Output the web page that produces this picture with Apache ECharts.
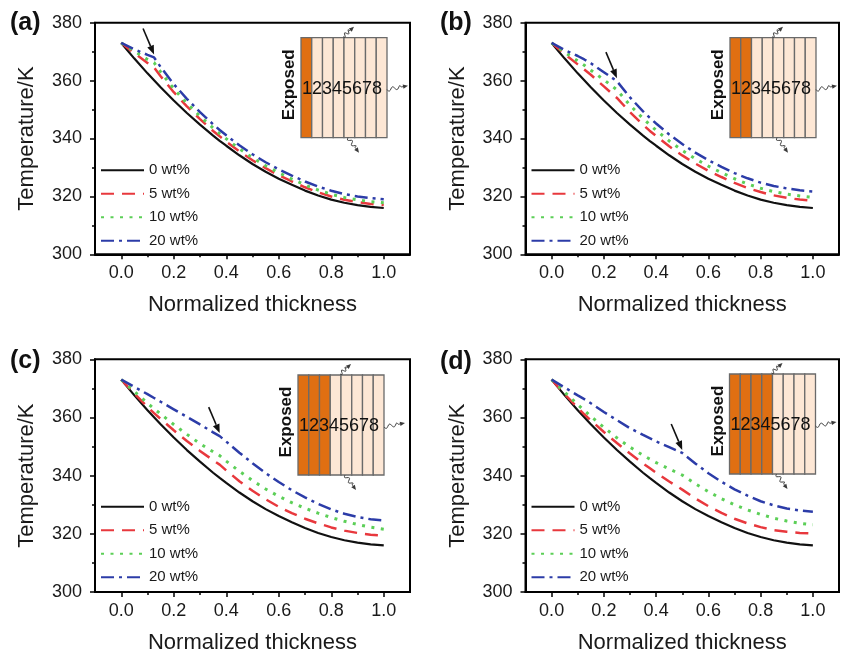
<!DOCTYPE html>
<html>
<head>
<meta charset="utf-8">
<script src="https://cdn.jsdelivr.net/npm/echarts@6/dist/echarts.min.js"></script>
<style>
  html, body { margin: 0; padding: 0; background: #fff; }
  #chart { width: 846px; height: 655px; }
</style>
</head>
<body>
<div id="chart"></div>
<script>
// Normalized thickness positions (layer interfaces at 1/8 steps included)
const thickness = [0, 0.05, 0.1, 0.125, 0.15, 0.2, 0.25, 0.3, 0.35, 0.375, 0.4, 0.45, 0.5,
                   0.55, 0.6, 0.65, 0.7, 0.75, 0.8, 0.85, 0.9, 0.95, 1.0];

// 0 wt% reference profile (same in every panel)
const wt0 = [373, 367.6, 362.5, 360.1, 357.7, 353.1, 348.8, 344.8, 341.0, 339.2, 337.5, 334.2, 331.2,
             328.5, 326.1, 324.0, 322.0, 320.3, 318.9, 317.8, 317.0, 316.4, 316.0];

// (a) one exposed layer
const wt5A  = [373, 369.5, 366.1, 364.5, 361.5, 356.0, 351.1, 346.7, 342.6, 340.75, 338.95, 335.55, 332.5,
               329.75, 327.3, 325.15, 323.15, 321.4, 319.95, 318.85, 318.0, 317.4, 317.0];
const wt10A = [373, 370.2, 367.3, 366.2, 363.0, 357.2, 352.2, 347.7, 343.6, 341.7, 339.9, 336.45, 333.35,
               330.6, 328.15, 326.0, 323.95, 322.2, 320.75, 319.6, 318.8, 318.2, 317.8];
const wt20A = [373, 370.8, 368.9, 368.0, 364.7, 358.8, 353.7, 349.1, 344.9, 342.95, 341.1, 337.65, 334.55,
               331.8, 329.35, 327.2, 325.15, 323.4, 321.95, 320.8, 320.0, 319.4, 319.0];

// (b) two exposed layers
const wt5B  = [373, 369.2, 365.6, 363.8, 362.0, 358.0, 354.0, 349.1, 344.7, 342.7, 340.85, 337.3, 334.15,
               331.35, 328.85, 326.7, 324.65, 322.9, 321.5, 320.35, 319.5, 318.9, 318.5];
const wt10B = [373, 369.8, 366.8, 365.3, 363.6, 360.3, 356.8, 351.5, 346.9, 344.8, 342.85, 339.15, 335.9,
               333.0, 330.45, 328.2, 326.1, 324.3, 322.8, 321.65, 320.8, 320.15, 319.7];
const wt20B = [373, 370.6, 368.5, 367.3, 366.0, 362.9, 359.8, 354.2, 349.4, 347.2, 345.2, 341.4, 338.1,
               335.1, 332.5, 330.2, 328.05, 326.25, 324.75, 323.6, 322.75, 322.1, 321.7];

// (c) three exposed layers
const wt5C  = [373, 368.2, 363.6, 361.5, 359.5, 355.6, 351.9, 348.5, 345.3, 343.8, 341.8, 338.1, 334.8,
               331.9, 329.3, 327.1, 325.2, 323.6, 322.2, 321.1, 320.3, 319.7, 319.4];
const wt10C = [373, 368.9, 364.9, 363.0, 361.2, 357.6, 354.2, 351.0, 348.2, 346.9, 345.0, 341.5, 338.3,
               335.4, 332.9, 330.7, 328.8, 327.1, 325.6, 324.3, 323.2, 322.3, 321.6];
const wt20C = [373, 370.5, 368.0, 366.7, 365.4, 362.8, 360.2, 357.6, 354.9, 353.6, 351.7, 347.9, 344.3,
               340.9, 337.8, 335.0, 332.5, 330.3, 328.4, 326.9, 325.8, 325.0, 324.6];

// (d) four exposed layers
const wt5D  = [373, 368.0, 363.3, 361.1, 359.0, 355.0, 351.2, 347.6, 344.2, 342.6, 341.0, 338.0, 335.2,
               332.2, 329.5, 327.2, 325.2, 323.6, 322.3, 321.3, 320.7, 320.3, 320.1];
const wt10D = [373, 368.7, 364.4, 362.4, 360.4, 356.6, 353.0, 349.8, 347.0, 345.7, 344.5, 342.3, 340.2,
               337.2, 334.5, 332.1, 330.0, 328.2, 326.7, 325.4, 324.4, 323.6, 323.1];
const wt20D = [373, 370.3, 367.6, 366.3, 364.9, 361.9, 359.1, 356.3, 354.0, 352.9, 351.8, 349.8, 347.8,
               344.2, 340.8, 337.9, 335.3, 333.1, 331.2, 329.8, 328.7, 328.0, 327.6];

const seriesNames = ['0 wt%', '5 wt%', '10 wt%', '20 wt%'];
const panelLabels = ['(a)', '(b)', '(c)', '(d)'];
const exposedLayers = [1, 2, 3, 4];
const interfaceX = [0.125, 0.25, 0.375, 0.5];
const xTickValues = [0, 0.2, 0.4, 0.6, 0.8, 1.0];
const xMinorValues = [0.1, 0.3, 0.5, 0.7, 0.9];
const layerDigits = '12345678';

const panelData = [
  [wt0, wt5A, wt10A, wt20A],
  [wt0, wt5B, wt10B, wt20B],
  [wt0, wt5C, wt10C, wt20C],
  [wt0, wt5D, wt10D, wt20D]
];

const FONT = '"Liberation Sans", Arial, Helvetica, sans-serif';
const INK = '#1a1a1a';

const grids = [
  { left: 95,    top: 22.7,  width: 315,   height: 231.6 },
  { left: 525.5, top: 22.7,  width: 313.5, height: 231.6 },
  { left: 95,    top: 359.3, width: 315,   height: 234 },
  { left: 525.5, top: 359.3, width: 313.5, height: 234 }
];

const lineStyles = [
  { color: '#111111', width: 2.2, type: 'solid' },
  { color: '#e8383d', width: 2.5, type: [13, 8] },
  { color: '#5ccf57', width: 3,   type: [3, 6.5] },
  { color: '#2c3ca8', width: 2.5, type: [13, 5, 3, 5] }
];

const axisLineStyle = { color: '#000', width: 2 };
const tickLineStyle = { color: '#000', width: 1.5 };

const xAxes = [];
const yAxes = [];
const series = [];
const legends = [];

grids.forEach((g, i) => {
  xAxes.push({
    gridIndex: i, type: 'value', min: -0.1, max: 1.1, position: 'bottom',
    axisLine: { show: true, onZero: false, lineStyle: axisLineStyle },
    axisTick: { show: true, customValues: xTickValues, length: 5, lineStyle: tickLineStyle },
    axisLabel: { customValues: xTickValues, formatter: v => v.toFixed(1),
                 fontSize: 18, margin: 10, color: INK, fontFamily: FONT },
    splitLine: { show: false },
    name: 'Normalized thickness', nameLocation: 'middle', nameGap: 40,
    nameTextStyle: { fontSize: 22, color: INK, fontFamily: FONT }
  });
  yAxes.push({
    gridIndex: i, type: 'value', min: 300, max: 380, interval: 20, position: 'left',
    axisLine: { show: true, onZero: false, lineStyle: axisLineStyle },
    axisTick: { show: true, length: 5, lineStyle: tickLineStyle },
    minorTick: { show: true, splitNumber: 2, length: 3, lineStyle: tickLineStyle },
    axisLabel: { fontSize: 18, margin: 13, color: INK, fontFamily: FONT },
    splitLine: { show: false },
    minorSplitLine: { show: false },
    name: 'Temperature/K', nameLocation: 'middle', nameGap: 57,
    nameTextStyle: { fontSize: 22, color: INK, fontFamily: FONT }
  });
  panelData[i].forEach((vals, k) => {
    series.push({
      type: 'line', name: seriesNames[k], xAxisIndex: i, yAxisIndex: i,
      data: thickness.map((x, j) => [x, vals[j]]),
      symbol: 'none', showSymbol: false, smooth: false,
      lineStyle: lineStyles[k], itemStyle: { color: lineStyles[k].color },
      z: 2 + k
    });
  });
  legends.push({
    orient: 'vertical', left: g.left + 5, top: g.top + 140,
    itemWidth: 43, itemHeight: 14, itemGap: 8.5, padding: 0,
    selectedMode: false, data: seriesNames,
    itemStyle: { opacity: 0 },
    textStyle: { fontSize: 15, color: INK, fontFamily: FONT, lineHeight: 14 }
  });
});

// secondary bottom axes carrying the short minor ticks at odd tenths
grids.forEach((g, i) => {
  xAxes.push({
    gridIndex: i, type: 'value', min: -0.1, max: 1.1, position: 'bottom',
    axisLine: { show: false, onZero: false },
    axisTick: { show: true, customValues: xMinorValues, length: 3, lineStyle: tickLineStyle },
    axisLabel: { show: false, customValues: xMinorValues },
    splitLine: { show: false }
  });
});

const chart = echarts.init(document.getElementById('chart'), null, { renderer: 'canvas' });
chart.setOption({
  animation: false,
  backgroundColor: '#fff',
  textStyle: { fontFamily: FONT },
  grid: grids.map(g => Object.assign({ show: true, borderColor: '#000', borderWidth: 2,
                                       backgroundColor: 'transparent' }, g)),
  xAxis: xAxes,
  yAxis: yAxes,
  legend: legends,
  series: series
});

// ---------- decorations: panel letters, layer sketch, interface arrows ----------
function squiggleArrow(x0, y0, x1, y1) {
  const dx = x1 - x0, dy = y1 - y0, len = Math.hypot(dx, dy);
  const ux = dx / len, uy = dy / len, px = -uy, py = ux;
  const bodyLen = len - 4;
  const pts = [];
  const n = 18;
  for (let k = 0; k <= n; k++) {
    const t = k / n;
    const d = t * bodyLen;
    const w = t < 0.8 ? 1.8 * Math.sin(t * Math.PI * 4.4) : 0;
    pts.push([x0 + ux * d + px * w, y0 + uy * d + py * w]);
  }
  const bx = x1 - ux * 5, by = y1 - uy * 5;
  return [
    { type: 'polyline', shape: { points: pts, smooth: 0.3 },
      style: { stroke: '#3a3a3a', lineWidth: 1, fill: null }, z: 20 },
    { type: 'polygon', shape: { points: [[x1, y1], [bx + px * 2.2, by + py * 2.2], [bx - px * 2.2, by - py * 2.2]] },
      style: { fill: '#3a3a3a' }, z: 20 }
  ];
}

function layerSketch(L, T, n) {
  const W = 86, H = 100, cw = W / 8;
  const els = [];
  for (let k = 0; k < 8; k++) {
    els.push({ type: 'rect', shape: { x: L + k * cw, y: T, width: cw, height: H },
      style: { fill: k < n ? '#e06f12' : '#fde7d5', stroke: '#6a6a6a', lineWidth: 1.3 }, z: 20 });
  }
  els.push({ type: 'text', x: L + 1, y: T + 51.5, z: 21,
    style: { text: layerDigits, font: '18px ' + FONT, fill: '#111',
             align: 'left', verticalAlign: 'middle', textAlign: 'left', textVerticalAlign: 'middle' } });
  els.push({ type: 'text', x: L - 11.5, y: T + 47, rotation: Math.PI / 2, z: 21,
    style: { text: 'Exposed', font: 'bold 17px ' + FONT, fill: '#111',
             align: 'center', verticalAlign: 'middle', textAlign: 'center', textVerticalAlign: 'middle' } });
  return els
    .concat(squiggleArrow(L + 42, T - 1, L + 53, T - 11))
    .concat(squiggleArrow(L + 86, T + 52, L + 107, T + 48))
    .concat(squiggleArrow(L + 47, T + 100, L + 58, T + 115));
}

const letterPos = [[10, 23], [440, 23], [10, 361], [440, 362]];
const sketchPos = [[301, 37.7], [730, 37.7], [298, 375], [729.5, 374]];

let graphics = [];
panelLabels.forEach((lab, i) => {
  graphics.push({ type: 'text', x: letterPos[i][0], y: letterPos[i][1], z: 30,
    style: { text: lab, font: 'bold 25px ' + FONT, fill: '#111',
             align: 'left', verticalAlign: 'middle', textAlign: 'left', textVerticalAlign: 'middle' } });
  graphics = graphics.concat(layerSketch(sketchPos[i][0], sketchPos[i][1], exposedLayers[i]));

  // arrow pointing at the interface kink of the 20 wt% curve
  const idx = thickness.indexOf(interfaceX[i]);
  const p = chart.convertToPixel({ gridIndex: i }, [interfaceX[i], panelData[i][3][idx]]);
  const tip = [p[0], p[1] - 3];
  const start = [tip[0] - 11, tip[1] - 26];
  const dx = tip[0] - start[0], dy = tip[1] - start[1], len = Math.hypot(dx, dy);
  const ux = dx / len, uy = dy / len, px = -uy, py = ux;
  const hb = [tip[0] - ux * 9, tip[1] - uy * 9];
  graphics.push({ type: 'line', z: 30,
    shape: { x1: start[0], y1: start[1], x2: hb[0], y2: hb[1] },
    style: { stroke: '#111', lineWidth: 1.6 } });
  graphics.push({ type: 'polygon', z: 30,
    shape: { points: [tip, [hb[0] + px * 3.5, hb[1] + py * 3.5], [hb[0] - px * 3.5, hb[1] - py * 3.5]] },
    style: { fill: '#111' } });
});

chart.setOption({ graphic: graphics });
</script>
</body>
</html>
